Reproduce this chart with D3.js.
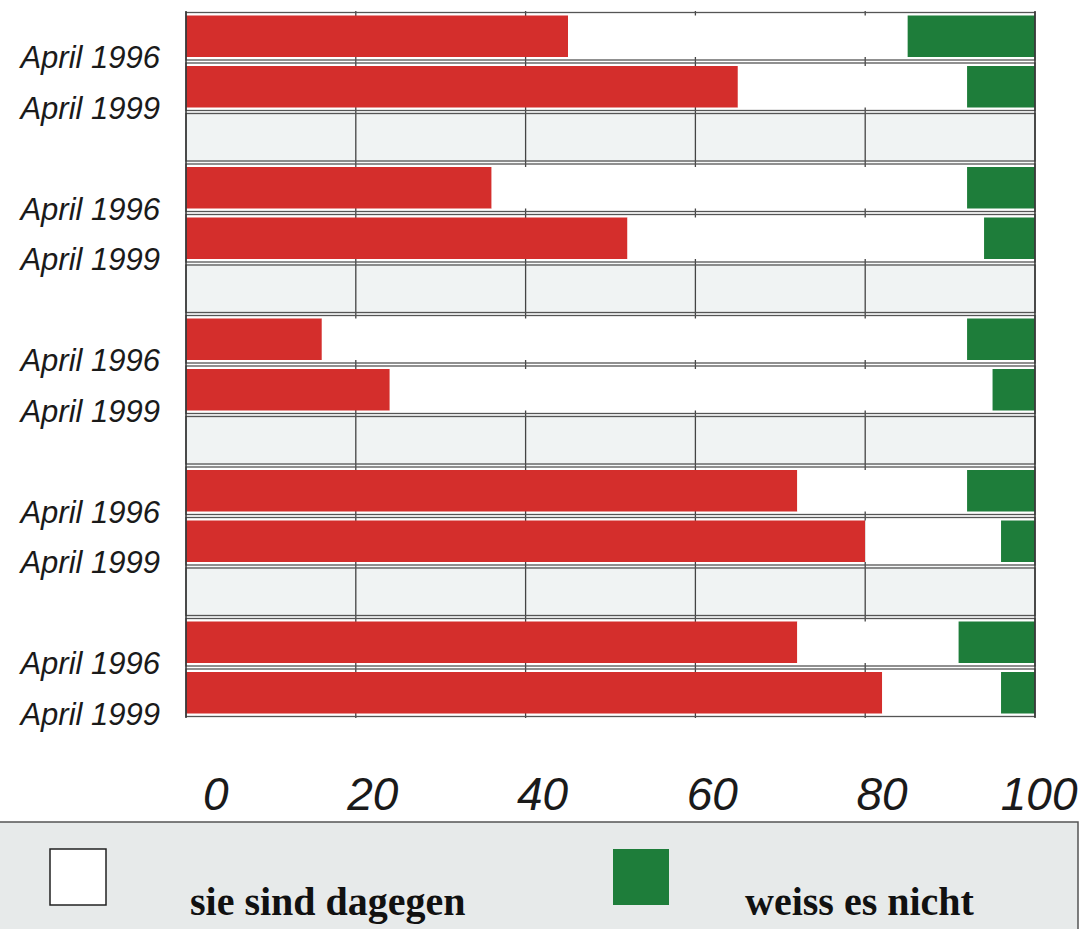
<!DOCTYPE html>
<html><head><meta charset="utf-8">
<script src="https://cdn.jsdelivr.net/npm/d3@7"></script>
<style>body{margin:0;background:#fff}svg{display:block}</style>
</head><body>
<script>
// ---- data ----
const groups = ["G1","G2","G3","G4","G5"];
const periods = ["April 1996","April 1999"];
const dafuer1996 = [45,36,16,72,72];
const nichtWissen1996 = [15,8,8,8,9];
const dafuer1999 = [65,52,24,80,82];
const nichtWissen1999 = [8,6,5,4,4];
const xTicks = [0,20,40,60,80,100];
const legendLabels = ["sie sind dagegen","weiss es nicht"];

// build rows
const rows = [];
groups.forEach((g,i)=>{
  const r96 = dafuer1996[i], n96 = nichtWissen1996[i];
  const r99 = dafuer1999[i], n99 = nichtWissen1999[i];
  rows.push({id:g+"a",label:periods[0],red:r96,white:100-r96-n96,green:n96});
  rows.push({id:g+"b",label:periods[1],red:r99,white:100-r99-n99,green:n99});
  if(i<groups.length-1) rows.push({id:g+"gap",gap:true});
});

const W=1081,H=929;
const colRed="#d42e2c", colGreen="#1e7d3a", colLine="#555";
const svg=d3.select("body").append("svg").attr("width",W).attr("height",H);

const x=d3.scaleLinear().domain([0,100]).range([186,1035]);
const y=d3.scaleBand().domain(rows.map(r=>r.id)).range([11,718]).padding(0);
const bw=y.bandwidth();

// gap band fills
svg.selectAll("rect.gap").data(rows.filter(r=>r.gap)).join("rect")
  .attr("x",x(0)).attr("width",x(100)-x(0))
  .attr("y",d=>y(d.id)).attr("height",bw)
  .attr("fill","#f0f3f3");

// gridlines
svg.selectAll("line.grid").data(xTicks.slice(1,-1)).join("line")
  .attr("x1",d=>x(d)).attr("x2",d=>x(d)).attr("y1",11).attr("y2",718)
  .attr("stroke","#444").attr("stroke-width",1.3);

// stacked bars
const segs=[];
rows.filter(r=>!r.gap).forEach(r=>{
  segs.push({id:r.id,x0:0,x1:r.red,c:colRed});
  segs.push({id:r.id,x0:r.red,x1:r.red+r.white,c:"#ffffff"});
  segs.push({id:r.id,x0:r.red+r.white,x1:100,c:colGreen});
});
svg.selectAll("rect.seg").data(segs).join("rect")
  .attr("x",d=>x(d.x0)).attr("width",d=>x(d.x1)-x(d.x0))
  .attr("y",d=>y(d.id)+4.5).attr("height",bw-9)
  .attr("fill",d=>d.c);

// band outlines (double lines between rows)
svg.selectAll("rect.band").data(rows).join("rect")
  .attr("x",x(0)).attr("width",x(100)-x(0))
  .attr("y",d=>y(d.id)+1.5).attr("height",bw-3)
  .attr("fill","none").attr("stroke",colLine).attr("stroke-width",1.3);

// plot frame
svg.append("line").attr("x1",x(0)).attr("x2",x(0)).attr("y1",11).attr("y2",718).attr("stroke","#333").attr("stroke-width",1.5);
svg.append("line").attr("x1",x(100)).attr("x2",x(100)).attr("y1",11).attr("y2",718).attr("stroke","#333").attr("stroke-width",1.5);

// y labels
svg.selectAll("text.ylab").data(rows.filter(r=>!r.gap)).join("text")
  .attr("x",160).attr("y",d=>y(d.id)+bw/2+32)
  .attr("text-anchor","end")
  .attr("font-family","Liberation Sans, Arial, sans-serif")
  .attr("font-style","italic").attr("font-size",31)
  .attr("fill","#1a1a1a")
  .text(d=>d.label);

// x axis labels
const xAxis=d3.axisBottom(x).tickValues(xTicks).tickSize(0).tickFormat(d3.format("d"));
const gx=svg.append("g").attr("transform","translate(0,776)").call(xAxis);
gx.select(".domain").remove();
gx.selectAll("text")
  .attr("font-family","Liberation Sans, Arial, sans-serif")
  .attr("font-style","italic").attr("font-size",46)
  .attr("fill","#1a1a1a")
  .attr("text-anchor","end").attr("dx",42).attr("dy",0).attr("y",34);

// legend
const lg=svg.append("g");
lg.append("rect").attr("x",-2).attr("y",822).attr("width",1080).attr("height",112)
  .attr("fill","#e7eaea").attr("stroke","#555").attr("stroke-width",1.5);
const legendItems=[{label:legendLabels[0],c:"#ffffff",bx:50,tx:190},{label:legendLabels[1],c:colGreen,bx:613,tx:745}];
lg.selectAll("rect.sw").data(legendItems).join("rect")
  .attr("x",d=>d.bx).attr("y",849).attr("width",56).attr("height",56)
  .attr("fill",d=>d.c).attr("stroke",d=>d.c==="#ffffff"?"#222":"none").attr("stroke-width",1.5);
lg.selectAll("text.lt").data(legendItems).join("text")
  .attr("x",d=>d.tx).attr("y",915)
  .attr("font-family","Liberation Serif, Times New Roman, serif")
  .attr("font-weight","bold").attr("font-size",40).attr("fill","#111")
  .text(d=>d.label);
</script>
</body></html>
